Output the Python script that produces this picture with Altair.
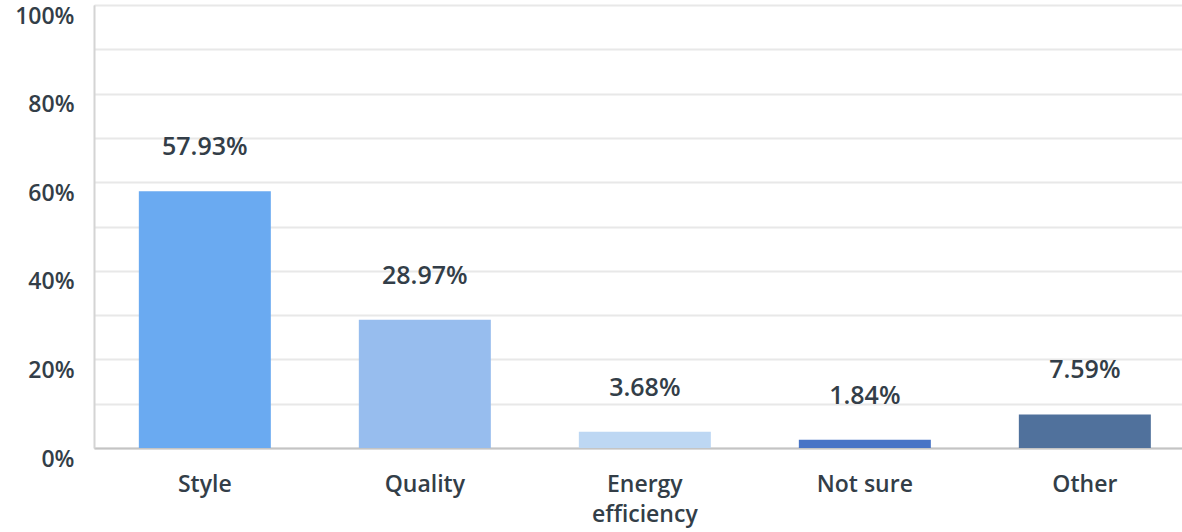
import altair as alt
import pandas as pd

categories = ["Style", "Quality", "Energy\nefficiency", "Not sure", "Other"]
values = [57.93, 28.97, 3.68, 1.84, 7.59]
colors = ["#6aaaf1", "#97bdee", "#bdd7f3", "#4874c6", "#50719c"]

df = pd.DataFrame({"answer": categories, "pct": values, "color": colors})
df["label"] = df["pct"].map(lambda v: f"{v:.2f}%")

FONT = "Open Sans"
TEXT = "#333e48"

x = alt.X(
    "answer:N",
    sort=categories,
    scale=alt.Scale(paddingInner=0.4, paddingOuter=0.1727, align=0.59),
    axis=alt.Axis(
        title=None,
        labelAngle=0,
        labelExpr="split(datum.label, '\\n')",
        labelFont=FONT,
        labelFontSize=23,
        labelFontWeight=600,
        labelColor=TEXT,
        labelPadding=36,
        labelLineHeight=30,
        labelBaseline="middle",
        ticks=False,
        domainColor="#c4c4c4",
        domainWidth=2,
        grid=False,
    ),
)

y = alt.Y(
    "pct:Q",
    scale=alt.Scale(domain=[0, 100], nice=False),
    axis=alt.Axis(
        title=None,
        values=list(range(0, 101, 10)),
        labelExpr="datum.value % 20 == 0 ? datum.value + '%' : ''",
        labelFont=FONT,
        labelFontSize=23,
        labelFontWeight=600,
        labelColor=TEXT,
        labelPadding=20,
        labelBaseline="middle",
        labelOffset=11,
        ticks=False,
        domainColor="#d4d4d4",
        domainWidth=2,
        gridColor="#e8e8e8",
        gridWidth=2,
    ),
)

bars = alt.Chart(df).mark_bar().encode(
    x=x,
    y=y,
    color=alt.Color("color:N", scale=None),
)

labels = alt.Chart(df).mark_text(
    font=FONT, fontSize=25, fontWeight=600, color=TEXT, baseline="middle", dy=-44
).encode(
    x=alt.X("answer:N", sort=categories),
    y="pct:Q",
    text="label:N",
)

chart = (
    alt.layer(bars, labels)
    .properties(width=1088, height=443, padding={"left": 14, "top": 5, "right": 0, "bottom": 4})
    .configure_view(stroke=None)
    .configure(background="#ffffff")
)

chart.save("out.html", embed_options={"renderer": "svg", "actions": False})
